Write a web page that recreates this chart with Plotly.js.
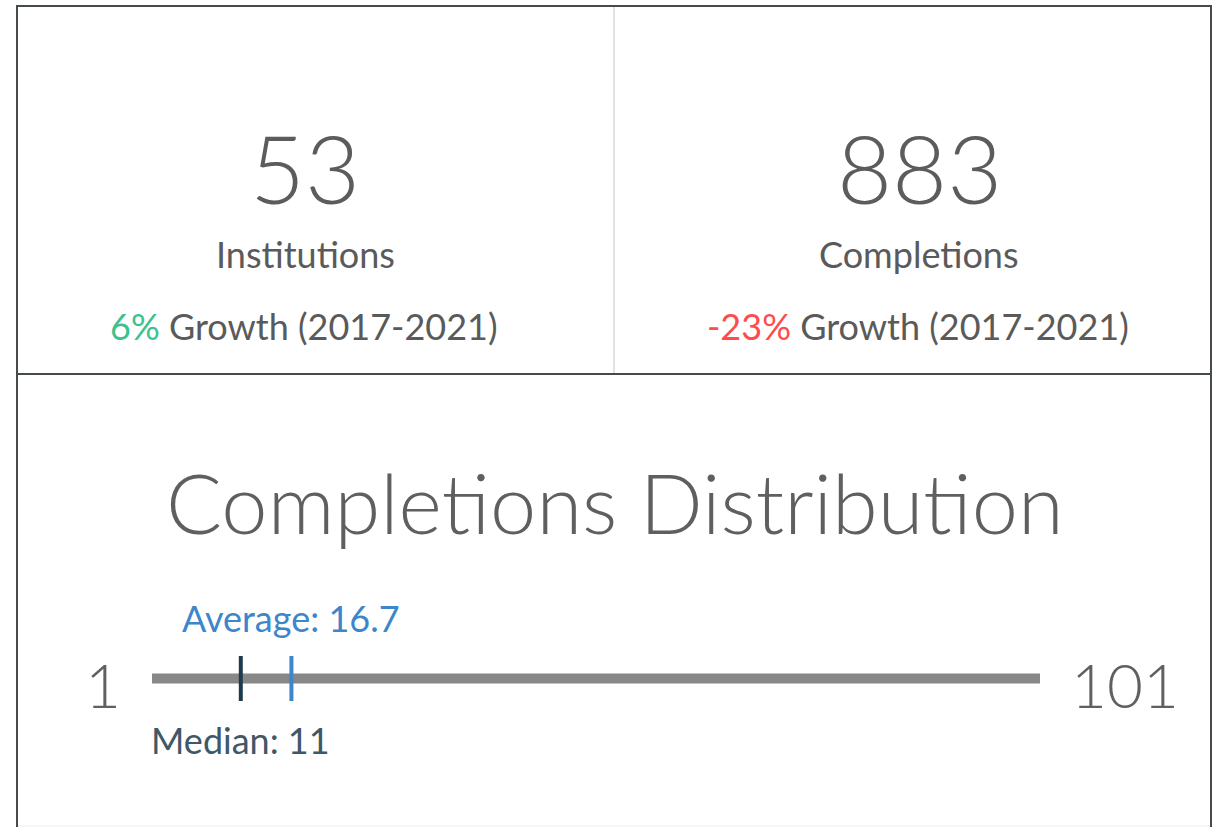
<!DOCTYPE html>
<html>
<head>
<meta charset="utf-8">
<script src="https://cdn.plot.ly/plotly-3.0.1.min.js"></script>
<style>
html,body{margin:0;padding:0;background:#fff;}
#chart{width:1218px;height:827px;}
</style>
</head>
<body>
<div id="chart"></div>
<script>
// ---- data ----
var kpiValues = [53, 883];
var kpiLabels = ["Institutions", "Completions"];
var kpiGrowth = [6, -23];
var growthPeriod = "(2017-2021)";
var distTitle = "Completions Distribution";
var distMin = 1;
var distMax = 101;
var distMedian = 11;
var distAverage = 16.7;

// ---- layout helpers ----
var W = 1218, H = 827;
function px(x){ return x / W; }
function py(y){ return 1 - y / H; }

var textGrey = "#5a5a5a";
var green = "#3cc28e";
var red = "#ff4b4b";
var avgBlue = "#3d86cc";
var medNavy = "#1d3b4f";
var medLabel = "#3e5868";

var cardCenters = [305, 919];
var annotations = [];
for (var i = 0; i < kpiValues.length; i++) {
  var g = kpiGrowth[i];
  annotations.push({
    xref: "paper", yref: "paper", x: px(cardCenters[i]), y: py(167),
    text: String(kpiValues[i]), showarrow: false, xanchor: "center", yanchor: "middle",
    font: {family: "Lato", size: 95, color: "#5c5c5c", weight: 300}
  });
  annotations.push({
    xref: "paper", yref: "paper", x: px(cardCenters[i]), y: py(254),
    text: kpiLabels[i], showarrow: false, xanchor: "center", yanchor: "middle",
    font: {family: "Lato", size: 36, color: textGrey}
  });
  annotations.push({
    xref: "paper", yref: "paper", x: px(cardCenters[i] - 1), y: py(326),
    text: '<span style="color:' + (g >= 0 ? green : red) + '">' + g + '%</span> Growth ' + growthPeriod,
    showarrow: false, xanchor: "center", yanchor: "middle",
    font: {family: "Lato", size: 36, color: textGrey}
  });
}
annotations.push({
  xref: "paper", yref: "paper", x: px(615), y: py(502),
  text: distTitle, showarrow: false, xanchor: "center", yanchor: "middle",
  font: {family: "Lato", size: 83, color: "#5f5f5f", weight: 300}
});
annotations.push({
  xref: "paper", yref: "paper", x: px(123), y: py(684),
  text: String(distMin), showarrow: false, xanchor: "right", yanchor: "middle",
  font: {family: "Lato", size: 62, color: "#606060", weight: 300}
});
annotations.push({
  xref: "paper", yref: "paper", x: px(1069), y: py(684),
  text: String(distMax), showarrow: false, xanchor: "left", yanchor: "middle",
  font: {family: "Lato", size: 62, color: "#606060", weight: 300}
});
annotations.push({
  xref: "x", yref: "paper", x: distAverage, y: py(618),
  text: "Average: " + distAverage, showarrow: false, xanchor: "center", yanchor: "middle",
  font: {family: "Lato", size: 36, color: avgBlue}
});
annotations.push({
  xref: "x", yref: "paper", x: distMedian, y: py(740),
  text: "Median: " + distMedian, showarrow: false, xanchor: "center", yanchor: "middle",
  font: {family: "Lato", size: 36, color: medLabel}
});

var border = "#454a4a";
var shapes = [
  {type:"line", xref:"paper", yref:"paper", x0:px(17), x1:px(1211), y0:py(6), y1:py(6), line:{color:border, width:2}},
  {type:"line", xref:"paper", yref:"paper", x0:px(17), x1:px(17), y0:py(5), y1:py(830), line:{color:border, width:2}},
  {type:"line", xref:"paper", yref:"paper", x0:px(1211), x1:px(1211), y0:py(5), y1:py(830), line:{color:border, width:2}},
  {type:"line", xref:"paper", yref:"paper", x0:px(17), x1:px(1211), y0:py(374), y1:py(374), line:{color:border, width:2}},
  {type:"line", xref:"paper", yref:"paper", x0:px(614), x1:px(614), y0:py(7), y1:py(373), line:{color:"#e2e2e2", width:2}},
  {type:"line", xref:"paper", yref:"paper", x0:px(18), x1:px(1210), y0:py(826), y1:py(826), line:{color:"#ececec", width:1}}
];

// x axis: map distMin -> 152px, distMax -> 1040px
var pxPerUnit = (1040 - 152) / (distMax - distMin);
var xRange = [distMin - 152 / pxPerUnit, distMax + (W - 1040) / pxPerUnit];

var traces = [
  {x:[distMin, distMax], y:[0, 0], mode:"lines", line:{color:"#888888", width:10}, hoverinfo:"skip"},
  {x:[distMedian, distMedian], y:[-1, 1], mode:"lines", line:{color:medNavy, width:4}, hoverinfo:"skip"},
  {x:[distAverage, distAverage], y:[-1, 1], mode:"lines", line:{color:avgBlue, width:4}, hoverinfo:"skip"}
];

var layout = {
  width: W, height: H,
  margin: {l:0, r:0, t:0, b:0},
  paper_bgcolor: "#ffffff", plot_bgcolor: "rgba(0,0,0,0)",
  showlegend: false,
  xaxis: {range: xRange, domain:[0,1], visible:false, fixedrange:true},
  yaxis: {range: [-1, 1], domain:[(H - 701) / H, (H - 656) / H], visible:false, fixedrange:true},
  annotations: annotations,
  shapes: shapes
};

Plotly.newPlot("chart", traces, layout, {displayModeBar:false, staticPlot:true});
</script>
</body>
</html>
